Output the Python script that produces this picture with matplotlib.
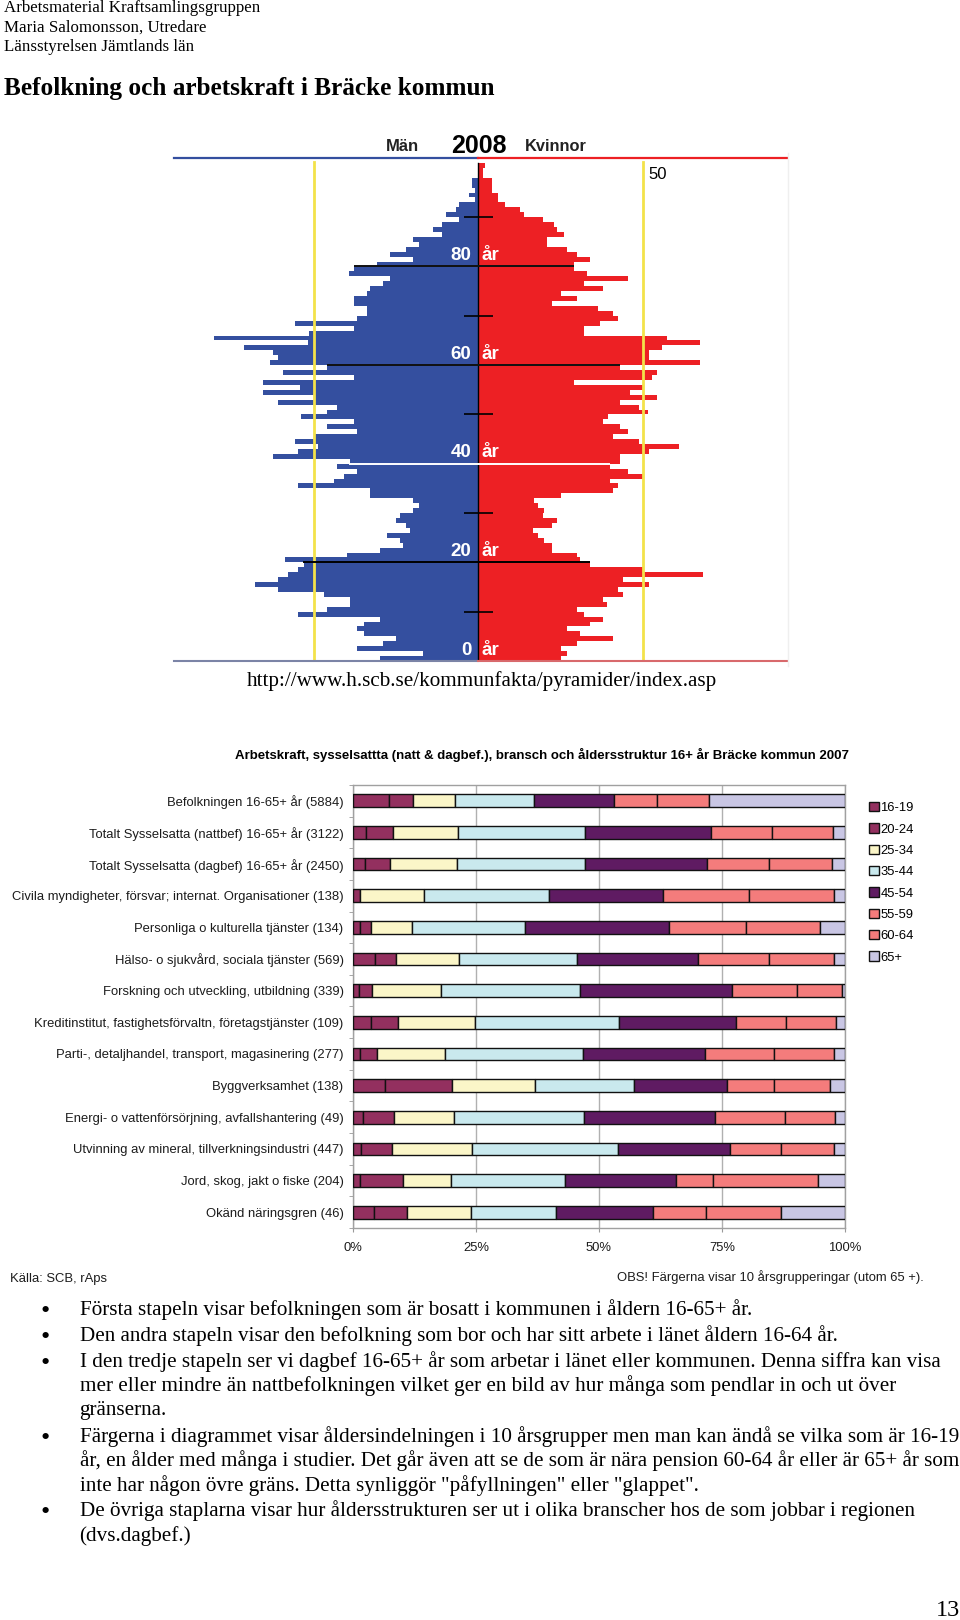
import numpy as np
import matplotlib
matplotlib.use("Agg")
import matplotlib.pyplot as plt

W, H = 960, 1620
SERIF = "Liberation Serif"
SANS = "Liberation Sans"

# ---------- population pyramid data (people per one-year age class, age 0..100)
men = [30,17,37,29,25,35,37,35,30,55,46,39,39,47,61,68,61,58,55,53,
       59,40,30,23,24,28,21,22,25,24,20,18,20,33,33,55,44,41,37,43,
       39,62.5,55,49,56,50,37,46,38,54,46,43,61,50,65.5,54.5,65.5,38,59.5,46,
       63.5,61,62.5,71.5,52,80.5,51.5,38,56,37,34,34,38,38,34,33,29,27,39.5,38,
       31,20,27,22,18,20,11,14,11,6,10,7,6,1,3,1,2,2,0,0,0]
women = [25,27,25,30,41,31,27,34,38,32,30,39,38,44,42.5,52,44,68.5,50,34,
         31,30,22.5,22.5,20,18,16.5,22.5,24,19.5,20,18,17,25,41,42.5,40,50,45.5,40,
         43,43,52,61,49,41,45.5,43,38,39.5,51.5,49,43,54.5,46,50,29,53,54.5,43,
         67.5,52,52,56,67.5,57.5,32,32,37,42.5,41,36.5,22.5,30,25,38,32,45.5,33,29,
         29,34,30,27,21,21,26,24,23,19.5,14,12.5,8,6,6,4,4,4,1.5,1.5,2]
ages = list(range(len(men)))
long_ticks_age = [20, 40, 60, 80]
long_ticks_left = [-53.5, -39.5, -46, -38]
long_ticks_right = [34, 40, 43, 29]
long_ticks_color = ["black", "white", "#111111", "#111111"]
short_ticks_age = [10, 30, 50, 70, 90]
age_labels = [0, 20, 40, 60, 80]

# ---------- stacked bars data (percent)
branches = ["Befolkningen 16-65+ år (5884)",
            "Totalt Sysselsatta (nattbef) 16-65+ år (3122)",
            "Totalt Sysselsatta (dagbef) 16-65+ år (2450)",
            "Civila myndigheter, försvar; internat. Organisationer (138)",
            "Personliga o kulturella tjänster (134)",
            "Hälso- o sjukvård, sociala tjänster (569)",
            "Forskning och utveckling, utbildning (339)",
            "Kreditinstitut, fastighetsförvaltn, företagstjänster (109)",
            "Parti-, detaljhandel, transport, magasinering (277)",
            "Byggverksamhet (138)",
            "Energi- o vattenförsörjning, avfallshantering (49)",
            "Utvinning av mineral, tillverkningsindustri (447)",
            "Jord, skog, jakt o fiske (204)",
            "Okänd näringsgren (46)"]
groups = ["16-19", "20-24", "25-34", "35-44", "45-54", "55-59", "60-64", "65+"]
g1619 = [7.4,2.6,2.5,0.1,1.4,4.5,1.3,3.7,1.4,6.6,2.1,1.7,1.4,4.3]
g2024 = [4.7,5.5,5.1,1.4,2.3,4.3,2.6,5.4,3.4,13.6,6.2,6.2,8.8,6.7]
g2534 = [8.7,13.2,13.6,13.0,8.3,12.8,14.0,15.7,14.0,16.7,12.2,16.2,9.7,12.9]
g3544 = [15.9,25.9,26.0,25.3,23.0,24.0,28.2,29.3,28.0,20.3,26.4,29.8,23.1,17.3]
g4554 = [16.4,25.5,24.7,23.2,29.3,24.6,31.0,23.8,24.7,18.8,26.7,22.7,22.7,19.8]
g5559 = [8.7,12.4,12.6,17.4,15.5,14.4,13.2,10.2,14.0,9.5,14.2,10.4,7.4,10.7]
g6064 = [10.6,12.5,12.8,17.3,15.1,13.2,9.0,10.0,12.3,11.5,10.2,10.8,21.5,15.2]
g65 = [27.7,2.3,2.7,2.3,5.2,2.1,0.7,1.9,2.1,2.9,2.1,2.2,5.4,13.1]
group_values = [g1619, g2024, g2534, g3544, g4554, g5559, g6064, g65]
group_colors = ["#93305f", "#93305f", "#fbf6c8", "#c9e9ee", "#5f1b62", "#f47c7c", "#f47c7c", "#c9c6e4"]
pct_ticks = [0, 25, 50, 75, 100]

# ---------- page text
header = ["Arbetsmaterial Kraftsamlingsgruppen", "Maria Salomonsson, Utredare", "Länsstyrelsen Jämtlands län"]
header_y = [8.5, 28, 47]
bullets = [
 (True, "Första stapeln visar befolkningen som är bosatt i kommunen i åldern 16-65+ år."),
 (True, "Den andra stapeln visar den befolkning som bor och har sitt arbete i länet åldern 16-64 år."),
 (True, "I den tredje stapeln ser vi dagbef 16-65+ år som arbetar i länet eller kommunen. Denna siffra kan visa"),
 (False, "mer eller mindre än nattbefolkningen vilket ger en bild av hur många som pendlar in och ut över"),
 (False, "gränserna."),
 (True, "Färgerna i diagrammet visar åldersindelningen i 10 årsgrupper men man kan ändå se vilka som är 16-19"),
 (False, "år, en ålder med många i studier. Det går även att se de som är nära pension 60-64 år eller är 65+ år som"),
 (False, "inte har någon övre gräns. Detta synliggör \"påfyllningen\" eller \"glappet\"."),
 (True, "De övriga staplarna visar hur åldersstrukturen ser ut i olika branscher hos de som jobbar i regionen"),
 (False, "(dvs.dagbef.)"),
]
bullet_y = [1310, 1336, 1362, 1386, 1410, 1437, 1461, 1486, 1511, 1536]

fig = plt.figure(figsize=(W/100, H/100), dpi=100, facecolor="white")

def axpx(l, t, r, b):
    return fig.add_axes([l/W, 1-b/H, (r-l)/W, (b-t)/H])

def tx(x, y, s, **kw):
    kw.setdefault("va", "center")
    return fig.text(x/W, 1-y/H, s, **kw)

for s, y in zip(header, header_y):
    tx(4, y, s, family=SERIF, fontsize=12.2, color="black")
tx(4, 89, "Befolkning och arbetskraft i Bräcke kommun", family=SERIF, fontsize=18.2, fontweight="bold")

# ---------- pyramid
XL, XR = -92.75, 93.97
ax = axpx(174, 158, 787, 661)
ax.set_xlim(XL, XR)
ax.set_ylim(0, 102)
ax.axis("off")
ax.barh(ages, -np.array(men), height=1, left=0, align="edge", color="#344f9f", linewidth=0, antialiased=False)
ax.barh(ages, women, height=1, left=0, align="edge", color="#ed2024", linewidth=0, antialiased=False)
ax.plot([0, 0], [0, 101], color="black", lw=1.0)
ax.plot([-50, -50], [0.4, 101.2], color="#f3e24a", lw=2.0)
ax.plot([50, 50], [0.4, 101.2], color="#f3e24a", lw=2.0)
for a, l, r, c in zip(long_ticks_age, long_ticks_left, long_ticks_right, long_ticks_color):
    ax.plot([l, r], [a, a], color=c, lw=1.4, solid_capstyle="butt")
for a in short_ticks_age:
    ax.plot([-4.3, 4.3], [a, a], color="black", lw=1.2, solid_capstyle="butt")
ax.plot([XL, 0], [102, 102], color="#344f9f", lw=1.6, clip_on=False)
ax.plot([0, XR], [102, 102], color="#ed2024", lw=1.6, clip_on=False)
ax.plot([XL, 0], [0, 0], color="#7b84a6", lw=1.5, clip_on=False)
ax.plot([0, XR], [0, 0], color="#d8696c", lw=1.5, clip_on=False)
ax.plot([XR + 0.4, XR + 0.4], [-1, 103], color="#efefef", lw=1, clip_on=False)
for a in age_labels:
    ax.text(-2.2, a + 2.2, str(a), color="white", fontsize=13.5, fontweight="bold", family=SANS, ha="right", va="center")
    ax.text(0.8, a + 2.2, "år", color="white", fontsize=13.5, fontweight="bold", family=SANS, ha="left", va="center")
ax.text(51.6, 98.7, "50", color="black", fontsize=12, family=SANS, ha="left", va="center")
ax.text(-28.2, 104.4, "Män", color="#222222", fontsize=12, fontweight="bold", family=SANS, ha="left", va="center", clip_on=False)
ax.text(0, 104.5, "2008", color="black", fontsize=18, fontweight="bold", family=SANS, ha="center", va="center", clip_on=False)
ax.text(14, 104.4, "Kvinnor", color="#222222", fontsize=11.8, fontweight="bold", family=SANS, ha="left", va="center", clip_on=False)

tx(481.5, 681, "http://www.h.scb.se/kommunfakta/pyramider/index.asp", family=SERIF, fontsize=15.2, ha="center")
tx(542, 755, "Arbetskraft, sysselsattta (natt & dagbef.), bransch och åldersstruktur 16+ år Bräcke kommun 2007",
   family=SANS, fontsize=9.5, fontweight="bold", ha="center")

# ---------- stacked bars
bx = axpx(353, 785, 845, 1228)
y = np.arange(len(branches))
left = np.zeros(len(branches))
handles = []
for vals, col, lab in zip(group_values, group_colors, groups):
    b = bx.barh(y, vals, left=left, height=0.40, color=col, edgecolor="#111111", linewidth=1.0, label=lab, zorder=3)
    handles.append(b)
    left += np.array(vals)
bx.set_xlim(0, 100)
bx.set_ylim(len(branches) - 0.5, -0.5)
bx.set_yticks(y, branches, family=SANS, fontsize=9.4, color="#1c1c1c")
bx.set_yticks(np.arange(-0.5, len(branches)), minor=True)
bx.tick_params(axis="y", which="major", length=0, pad=6.8)
bx.tick_params(axis="y", which="minor", length=3, color="#999999")
bx.set_xticks(pct_ticks, [f"{v}%" for v in pct_ticks], family=SANS, fontsize=9.4, color="#1c1c1c")
bx.tick_params(axis="x", length=3, color="#999999", pad=7)
bx.grid(axis="x", color="#b0b0b0", lw=1, zorder=0)
bx.set_axisbelow(True)
for s in bx.spines.values():
    s.set_color("#a0a0a0")
    s.set_linewidth(1)
leg = bx.legend(handles=handles, loc="upper left", bbox_to_anchor=(0.998, 1.018), frameon=False,
                prop={"family": SANS, "size": 9.4}, handlelength=0.75, handleheight=0.75,
                handletextpad=0.13, labelspacing=0.69, borderaxespad=1.9, borderpad=0)

tx(10, 1279, "Källa: SCB, rAps", family=SANS, fontsize=9.4, color="#1c1c1c")
tx(617, 1277, "OBS! Färgerna visar 10 årsgrupperingar (utom 65 +).", family=SANS, fontsize=9.4, color="#1c1c1c")

# ---------- bullets
for (dot, s), yy in zip(bullets, bullet_y):
    if dot:
        tx(45, yy + 2, "•", family=SERIF, fontsize=19, ha="center")
    tx(79.5, yy, s, family=SERIF, fontsize=15.2)
tx(960, 1611, "13", family=SERIF, fontsize=17.5, ha="right")

fig.savefig("out.png", dpi=100, facecolor="white")
